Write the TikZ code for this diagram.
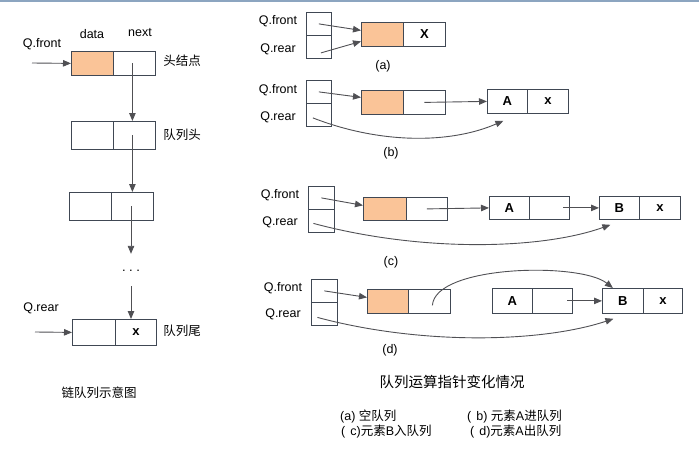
\documentclass[tikz,border=0pt]{standalone}
\usepackage{fontspec}
\setmainfont{Liberation Sans}
\newfontfamily\cjk{Noto Sans CJK SC}
\usetikzlibrary{arrows.meta}
\definecolor{boxc}{RGB}{64,72,84}
\definecolor{arrc}{RGB}{80,80,84}
\definecolor{orf}{RGB}{250,196,152}
\definecolor{topc}{RGB}{140,165,192}
\begin{document}
\begin{tikzpicture}[x=1pt,y=-1pt,
  every node/.style={font=\fontsize{12.5}{15}\selectfont, inner sep=0pt},
  cell/.style={draw=boxc, line width=0.8pt, anchor=north west, font=\fontsize{13}{15}\selectfont\bfseries},
  arr/.style={draw=arrc, line width=0.9pt, -{Triangle[length=8pt,width=6.5pt]}},
  captxt/.style={font=\fontsize{12.5}{15}\selectfont},
]
\useasboundingbox (0,0) rectangle (699,452);
\draw[topc, line width=1.5pt] (0,1) -- (699,1);

% ---------- left: chain queue ----------
\node[cell,fill=orf,minimum width=42pt,minimum height=24pt] (lhd) at (71,51) {};
\node[cell,minimum width=42pt,minimum height=24pt] (lhn) at (113,51) {};
\node[cell,minimum width=42pt,minimum height=28pt] (l2d) at (71,121) {};
\node[cell,minimum width=42pt,minimum height=28pt] (l2n) at (113,121) {};
\node[cell,minimum width=42pt,minimum height=28pt] (l3d) at (69,192) {};
\node[cell,minimum width=42pt,minimum height=28pt] (l3n) at (111,192) {};
\node[cell,minimum width=43pt,minimum height=26pt] (ltd) at (72,319) {};
\node[cell,minimum width=41pt,minimum height=26pt] (ltn) at (115,319) {x};
\node[minimum height=32pt] (dots) at (131,270) {\raisebox{-3pt}{\fontsize{13}{16}\selectfont .\hspace{3.5pt}.\hspace{3.5pt}.}};

\node (ldata) at (92,34) {data};
\node (lnext) at (140,33) {next};
\node (lqf) at (42,44) {Q.front};
\node (lqr) at (41,308) {Q.rear};
\node (lh) at (182,61) {\cjk 头结点};
\node (l2) at (182,135) {\cjk 队列头};
\node (lt) at (182,331) {\cjk 队列尾};
\node (ltitle) at (99,393) {\cjk 链队列示意图};

\coordinate (qfs) at (32,63);
\coordinate (qrs) at (35,332);
\draw[arr] (qfs) -- (lhd.west);
\draw[arr] (qrs) -- (ltd.west);
\draw[arr] ([xshift=-2pt]lhn.center) -- ([xshift=-2pt]lhn.center |- l2n.north);
\draw[arr] ([xshift=-2pt]l2n.center) -- ([xshift=-2pt]l2n.center |- l3n.north);
\draw[arr] (dots.north |- l3n.center) -- (dots.north);
\draw[arr] (dots.south) -- (dots.south |- ltn.north);

% ---------- (a) ----------
\node[cell,minimum width=25pt,minimum height=23pt] (pa1) at (306,12) {};
\node[cell,minimum width=25pt,minimum height=23pt] (pa2) at (306,35) {};
\node[cell,fill=orf,minimum width=42pt,minimum height=24pt] (ha) at (361,22) {};
\node[cell,minimum width=42pt,minimum height=24pt] (han) at (403,22) {X};
\node (aqf) at (278,21) {Q.front};
\node (aqr) at (278,49) {Q.rear};
\node (acap) at (383,66) {(a)};
\draw[arr] (pa1.center) -- ([yshift=4pt]ha.west);
\draw[arr] ([shift={(2pt,-6pt)}]pa2.center) -- ([yshift=-7pt]ha.west);

% ---------- (b) ----------
\node[cell,minimum width=25pt,minimum height=23pt] (pb1) at (306,80) {};
\node[cell,minimum width=25pt,minimum height=23pt] (pb2) at (306,103) {};
\node[cell,fill=orf,minimum width=42pt,minimum height=24pt] (hb) at (361,90) {};
\node[cell,minimum width=42pt,minimum height=24pt] (hbn) at (403,90) {};
\node[cell,minimum width=40pt,minimum height=24pt] (bA) at (487,89) {A};
\node[cell,minimum width=41pt,minimum height=24pt] (bAn) at (527,89) {x};
\node (bqf) at (278,90) {Q.front};
\node (bqr) at (278,117) {Q.rear};
\node (bcap) at (391,153) {(b)};
\draw[arr] (pb1.center) -- ([yshift=5pt]hb.west);
\draw[arr] (hbn.center) -- (bA.west);
\draw[arr] ([shift={(-6pt,-3pt)}]pb2.center) .. controls (380,144) and (450,144) .. ([shift={(-4pt,-7pt)}]bA.south);

% ---------- (c) ----------
\node[cell,minimum width=26pt,minimum height=23pt] (pc1) at (308,186) {};
\node[cell,minimum width=26pt,minimum height=23pt] (pc2) at (308,209) {};
\node[cell,fill=orf,minimum width=43pt,minimum height=23pt] (hc) at (363,197) {};
\node[cell,minimum width=41pt,minimum height=23pt] (hcn) at (406,197) {};
\node[cell,minimum width=40pt,minimum height=23pt] (cA) at (489,196) {A};
\node[cell,minimum width=40pt,minimum height=23pt] (cAn) at (529,196) {};
\node[cell,minimum width=40pt,minimum height=23pt] (cB) at (599,196) {B};
\node[cell,minimum width=41pt,minimum height=23pt] (cBn) at (639,196) {x};
\node (cqf) at (280,195) {Q.front};
\node (cqr) at (280,222) {Q.rear};
\node (ccap) at (391,262) {(c)};
\draw[arr] (pc1.center) -- ([yshift=3.5pt]hc.west);
\draw[arr] (hcn.center) -- (cA.west);
\draw[arr] ([xshift=14pt]cAn.center) -- (cB.west);
\draw[arr] ([shift={(-8pt,-2.5pt)}]pc2.center) .. controls (420,252) and (540,250) .. ([shift={(-9pt,-5pt)}]cB.south);

% ---------- (d) ----------
\node[cell,minimum width=26pt,minimum height=23pt] (pd1) at (311,279) {};
\node[cell,minimum width=26pt,minimum height=23pt] (pd2) at (311,302) {};
\node[cell,fill=orf,minimum width=41pt,minimum height=24pt] (hd) at (367,289) {};
\node[cell,minimum width=42pt,minimum height=24pt] (hdn) at (408,289) {};
\node[cell,minimum width=40pt,minimum height=25pt] (dA) at (492,288) {A};
\node[cell,minimum width=40pt,minimum height=25pt] (dAn) at (532,288) {};
\node[cell,minimum width=41pt,minimum height=25pt] (dB) at (602,288) {B};
\node[cell,minimum width=39pt,minimum height=25pt] (dBn) at (643,288) {x};
\node (dqf) at (283,288) {Q.front};
\node (dqr) at (283,314) {Q.rear};
\node (dcap) at (390,350) {(d)};
\draw[arr] (pd1.center) -- ([yshift=4pt]hd.west);
\draw[arr] ([xshift=15pt]dAn.center) -- (dB.west);
\draw[arr] ([shift={(3pt,-4pt)}]hdn.center) .. controls (435,265) and (580,262) .. ([xshift=-10pt]dB.north);
\draw[arr] ([shift={(-7pt,-3.5pt)}]pd2.center) .. controls (420,345) and (540,343) .. ([shift={(-9.5pt,-5pt)}]dB.south);

% ---------- captions ----------
\node (rtitle) at (452,382) {\fontsize{14.5}{17}\selectfont\cjk 队列运算指针变化情况};
\node[captxt,anchor=west] (ca) at (340,417) {(a) {\cjk 空队列}};
\node[captxt,anchor=west] (cb) at (467,417) {(\hspace{5pt}b) {\cjk 元素}A{\cjk 进队列}};
\node[captxt,anchor=west] (cc) at (341,432) {(\hspace{5pt}c){\cjk 元素}B{\cjk 入队列}};
\node[captxt,anchor=west] (cd) at (470,432) {(\hspace{5pt}d){\cjk 元素}A{\cjk 出队列}};
\end{tikzpicture}
\end{document}
